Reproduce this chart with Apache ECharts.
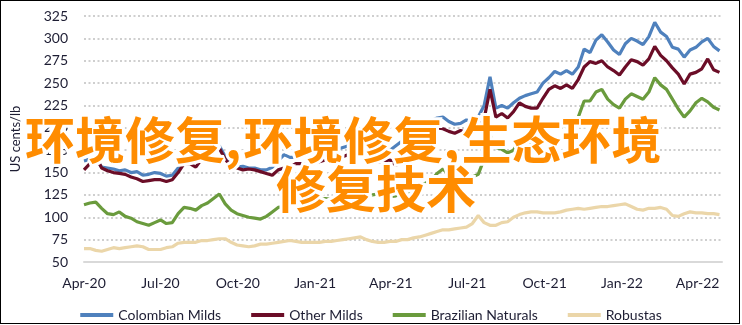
<!DOCTYPE html>
<html>
<head>
<meta charset="utf-8">
<script src="https://cdn.jsdelivr.net/npm/echarts@6/dist/echarts.min.js"></script>
<style>
  html, body { margin: 0; padding: 0; background: #fff; }
  #chart { position: absolute; left: 0; top: 0; width: 742px; height: 325px; }
  #frame { position: absolute; left: 0; top: 0; width: 738px; height: 322px; border: 1px solid #000; pointer-events: none; }
</style>
</head>
<body>
<div id="chart"></div>
<div id="frame"></div>
<script>
// Weekly ICO group indicator prices, US cents/lb, first week of Apr 2020 onwards
const START_DATE = [2020, 3, 1];
const WEEK_COUNT = 109;

const colombianMilds = [
  163,165,166,156,155,154,152,153,150,151,147,148,150,149,146,147,155,170,172,175,
  176,178,181,180,168,158,156,157,155,155,153,153,156,163,170,167,167,168,170,172,
  173,175,175,176,178,180,182,184,180,176,175,177,175,180,185,190,196,200,205,208,
  211,212,207,204,205,209,204,212,225,257,222,225,222,228,233,236,238,240,250,256,
  263,260,264,260,268,288,284,298,304,296,287,282,294,300,297,293,302,318,307,302,
  290,288,279,287,290,296,300,291,286
];
const otherMilds = [
  153,160,168,155,152,150,149,148,145,143,140,141,142,142,140,142,150,160,160,156,
  165,170,175,177,165,157,155,153,154,153,151,149,147,153,155,156,160,160,158,160,
  162,164,163,166,168,170,174,178,172,165,162,163,164,158,162,168,175,183,190,196,
  200,199,196,194,197,195,198,200,210,243,212,216,211,218,228,224,222,222,233,243,
  247,244,248,244,254,268,274,272,275,268,264,259,268,276,274,270,277,291,281,275,
  267,260,249,260,262,266,277,265,262
];
const brazilianNaturals = [
  114,116,117,110,104,103,106,101,99,95,93,91,94,97,93,94,104,111,110,108,
  113,116,121,126,115,108,104,102,100,99,98,101,106,111,112,114,115,116,116,118,
  119,121,120,119,120,121,122,123,122,125,126,127,123,124,126,128,131,136,138,141,
  149,154,148,145,149,150,145,148,165,192,178,176,172,175,186,180,181,183,190,198,
  204,203,202,208,212,230,230,240,243,232,226,222,232,238,235,232,240,256,248,243,
  232,221,212,219,228,233,229,223,220
];
const robustas = [
  65,65,63,62,64,66,65,66,67,68,67,64,64,64,66,67,71,72,72,72,
  74,74,75,76,76,72,69,68,67,68,70,70,71,72,73,74,73,72,72,72,
  72,73,73,74,75,76,77,78,75,73,72,72,73,73,75,75,77,78,80,82,
  84,86,86,87,88,89,93,102,94,91,91,94,95,100,103,105,106,106,105,105,
  105,106,108,109,110,109,110,111,112,112,113,114,115,112,109,108,110,110,111,109,
  102,101,104,106,105,105,104,104,103
];

const seriesNames = ['Colombian Milds', 'Other Milds', 'Brazilian Naturals', 'Robustas'];
const seriesColors = ['#4f81bd', '#6b0d27', '#6a9b3d', '#ebd6a9'];

// Quarterly x-axis ticks
const xTickLabels = ['Apr-20','Jul-20','Oct-20','Jan-21','Apr-21','Jul-21','Oct-21','Jan-22','Apr-22'];
const xTickDates = [[2020,3],[2020,6],[2020,9],[2021,0],[2021,3],[2021,6],[2021,9],[2022,0],[2022,3]];
const yTicks = { min: 50, max: 325, step: 25 };

// Overlay headline: first line split at its commas, second line whole
const headlineParts = ['环境修复', '环境修复', '生态环境'];
const headlineLine2 = '修复技术';

// Date of each weekly observation (as a timestamp on a linear axis)
const weekDates = [];
for (let i = 0; i < WEEK_COUNT; i++) {
  weekDates.push(new Date(START_DATE[0], START_DATE[1], START_DATE[2] + 7 * i).getTime());
}
const tickTimes = xTickDates.map(d => new Date(d[0], d[1], 1).getTime());
const tickLabelOf = {};
tickTimes.forEach((t, i) => { tickLabelOf[t] = xTickLabels[i]; });

const values = [colombianMilds, otherMilds, brazilianNaturals, robustas];
const FONT = 'Lato, "Open Sans", sans-serif';
const TEXT_COLOR = '#1d1d33';

const HEAD_FONT = '"Noto Sans CJK SC", sans-serif';
const headBase = {
  fontFamily: HEAD_FONT, fontSize: 50, fontWeight: 'bold',
  fill: '#ff8c00', stroke: '#fff', lineWidth: 6
};
const line1Rich = headlineParts.map(p => '{a|' + p + '}').join('{c|,}');

const chart = echarts.init(document.getElementById('chart'), null, { renderer: 'canvas' });
chart.setOption({
  animation: false,
  backgroundColor: '#fff',
  grid: { left: 84, right: 20, top: 16, bottom: 63, containLabel: false },
  legend: {
    top: 303,
    left: 'center',
    itemGap: 30,
    itemWidth: 33,
    itemHeight: 4,
    icon: 'rect',
    textStyle: { fontFamily: FONT, fontSize: 14, color: TEXT_COLOR },
    data: seriesNames
  },
  xAxis: {
    type: 'value',
    min: new Date(2020, 3, 1).getTime(),
    max: new Date(2022, 3, 30).getTime(),
    axisLine: { show: true, onZero: false, lineStyle: { color: '#d9d9d9', width: 2 } },
    axisTick: { show: false },
    splitLine: { show: false },
    axisLabel: {
      customValues: tickTimes,
      formatter: v => tickLabelOf[v] || '',
      fontFamily: FONT, fontSize: 14, color: TEXT_COLOR, margin: 14,
      hideOverlap: false
    }
  },
  yAxis: {
    type: 'value',
    min: yTicks.min, max: yTicks.max, interval: yTicks.step,
    name: 'US cents/lb',
    nameLocation: 'middle',
    nameGap: 62,
    nameTextStyle: { fontFamily: FONT, fontSize: 13, color: TEXT_COLOR },
    axisLine: { show: false },
    axisTick: { show: false },
    axisLabel: { fontFamily: FONT, fontSize: 14, color: TEXT_COLOR, margin: 16 },
    splitLine: {
      show: true,
      lineStyle: { color: '#cfcfcf', width: 2, type: [2, 2.5] }
    }
  },
  series: seriesNames.map((name, k) => ({
    name,
    type: 'line',
    showSymbol: false,
    symbol: 'none',
    color: seriesColors[k],
    lineStyle: { width: 3.2, color: seriesColors[k] },
    data: weekDates.map((t, i) => [t, values[k][i]])
  })),
  graphic: [
    {
      type: 'text', left: 22, top: 112, z: 100,
      style: Object.assign({}, headBase, {
        text: line1Rich,
        rich: {
          a: Object.assign({}, headBase),
          c: Object.assign({}, headBase, { padding: [0, 2, 0, 0] })
        }
      })
    },
    {
      type: 'text', left: 273, top: 161, z: 100,
      style: Object.assign({}, headBase, { text: headlineLine2 })
    }
  ]
});
</script>
</body>
</html>
